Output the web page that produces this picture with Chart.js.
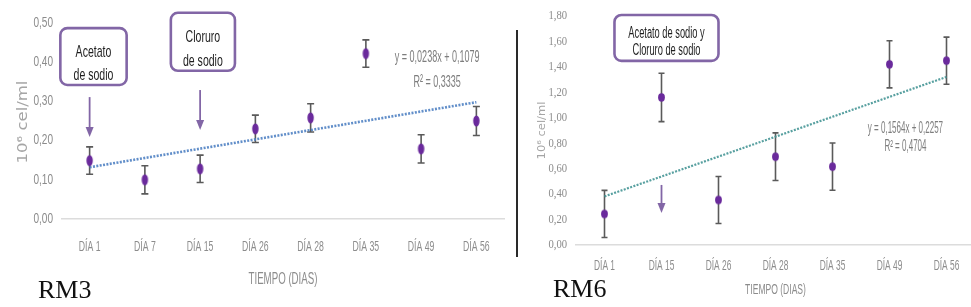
<!DOCTYPE html>
<html><head><meta charset="utf-8">
<script src="https://cdn.jsdelivr.net/npm/chart.js@4.4.1/dist/chart.umd.min.js"></script>
<style>
html,body{margin:0;padding:0;width:971px;height:307px;overflow:hidden;background:#fff;}
#wrap{position:relative;width:971px;height:307px;overflow:hidden;}
.cv{position:absolute;top:0;height:307px;}
.rm{position:absolute;font-family:"Liberation Serif","Times New Roman",serif;font-size:26px;color:#111;line-height:1;}
</style></head><body>
<div id="wrap">
  <div class="cv" style="left:0;width:510px"><canvas id="c1"></canvas></div>
  <div class="cv" style="left:520px;width:460px"><canvas id="c2"></canvas></div>
  <div style="position:absolute;left:516px;top:30px;width:2px;height:227px;background:#2a2a2a"></div>
  <div class="rm" style="left:38px;top:277px">RM3</div>
  <div class="rm" style="left:553px;top:276px">RM6</div>
</div>
<script>
// ---------- data ----------
const categoriesRM3 = ['DÍA 1','DÍA 7','DÍA 15','DÍA 26','DÍA 28','DÍA 35','DÍA 49','DÍA 56'];
const valuesRM3 = [0.149, 0.100, 0.128, 0.230, 0.258, 0.422, 0.179, 0.250];
const errorsRM3 = [0.035, 0.036, 0.035, 0.035, 0.036, 0.035, 0.036, 0.037];
const trendRM3  = [0.132, null, null, null, null, null, null, 0.298];
const yTickLabelsRM3 = ['0,00','0,10','0,20','0,30','0,40','0,50'];

const categoriesRM6 = ['DÍA 1','DÍA 15','DÍA 26','DÍA 28','DÍA 35','DÍA 49','DÍA 56'];
const valuesRM6 = [0.244, 1.160, 0.354, 0.694, 0.616, 1.420, 1.449];
const errorsRM6 = [0.185, 0.190, 0.185, 0.187, 0.186, 0.185, 0.185];
const trendRM6  = [0.382, null, null, null, null, null, 1.321];
const yTickLabelsRM6 = ['0,00','0,20','0,40','0,60','0,80','1,00','1,20','1,40','1,60','1,80'];

const eqRM3 = ['y = 0,0238x + 0,1079', 'R² = 0,3335'];
const eqRM6 = ['y = 0,1564x + 0,2257', 'R² = 0,4704'];
const xTitle = 'TIEMPO (DIAS)';
const yTitle = '10⁶ cel/ml';

// ---------- helpers ----------
const SANS = '"Liberation Sans",Arial,sans-serif';
const PURPLE = '#6a2a9c';
const BOXC = '#8266a6';

function ellipse(rx, ry, color){
  const c = document.createElement('canvas');
  c.width = Math.ceil(rx*2+2); c.height = Math.ceil(ry*2+2);
  const g = c.getContext('2d');
  g.fillStyle = color;
  g.beginPath(); g.ellipse(c.width/2, c.height/2, rx, ry, 0, 0, Math.PI*2); g.fill();
  return c;
}

function drawText(ctx, text, x, y, sx){
  ctx.save(); ctx.translate(x, y); ctx.scale(sx, 1); ctx.fillText(text, 0, 0); ctx.restore();
}

function makePlugins(cats, tickLabels, errors, cfg){
  const ann = cfg.ann;
  return [{
    id: 'errbars',
    beforeDatasetsDraw(chart){
      const meta = chart.getDatasetMeta(1);
      const ys = chart.scales.y, ctx = chart.ctx;
      const vals = chart.data.datasets[1].data;
      ctx.save();
      ctx.strokeStyle = '#5a5a5a'; ctx.lineWidth = 1.6;
      meta.data.forEach((pt, i) => {
        const yt = ys.getPixelForValue(vals[i] + errors[i]);
        const yb = ys.getPixelForValue(vals[i] - errors[i]);
        ctx.beginPath();
        ctx.moveTo(pt.x, yt); ctx.lineTo(pt.x, yb);
        ctx.moveTo(pt.x - cfg.cap, yt); ctx.lineTo(pt.x + cfg.cap, yt);
        ctx.moveTo(pt.x - cfg.cap, yb); ctx.lineTo(pt.x + cfg.cap, yb);
        ctx.stroke();
      });
      ctx.restore();
    }
  },{
    id: 'axisText',
    afterDraw(chart){
      const xs = chart.scales.x, ys = chart.scales.y, ctx = chart.ctx, ca = chart.chartArea;
      const t = cfg.text;
      ctx.save();
      ctx.textBaseline = 'middle';
      // x tick labels
      ctx.fillStyle = '#8c8c8c'; ctx.textAlign = 'center'; ctx.font = t.xTick.font;
      cats.forEach((c, i) => drawText(ctx, c, xs.getPixelForTick(i), ca.bottom + t.xTick.dy, t.xTick.sx));
      // y tick labels
      ctx.textAlign = 'right'; ctx.font = t.yTick.font;
      ys.ticks.forEach((tk, i) => drawText(ctx, tickLabels[i], ca.left - t.yTick.pad, ys.getPixelForValue(tk.value), t.yTick.sx));
      // x title
      ctx.textAlign = 'center'; ctx.font = t.xTitle.font;
      drawText(ctx, xTitle, (ca.left + ca.right) / 2, ca.bottom + t.xTitle.dy, t.xTitle.sx);
      // y title (rotated, thickness compressed)
      ctx.fillStyle = '#a5a5a5'; ctx.font = t.yTitle.font;
      ctx.save();
      ctx.translate(t.yTitle.x, (ca.top + ca.bottom) / 2 + t.yTitle.dy);
      ctx.rotate(-Math.PI / 2); ctx.scale(1, t.yTitle.sy);
      ctx.fillText(yTitle, 0, 0);
      ctx.restore();
      ctx.restore();
    }
  },{
    id: 'annot',
    afterDatasetsDraw(chart){
      const xs = chart.scales.x, ys = chart.scales.y, ctx = chart.ctx;
      const band = xs.getPixelForValue(1) - xs.getPixelForValue(0);
      const px = i => xs.getPixelForValue(0) + i*band;
      ctx.save();
      ann.boxes.forEach(b => {
        const x0 = px(b.x0), x1 = px(b.x1), y0 = ys.getPixelForValue(b.y0), y1 = ys.getPixelForValue(b.y1);
        ctx.fillStyle = '#fff'; ctx.strokeStyle = BOXC; ctx.lineWidth = 2.6;
        ctx.beginPath(); ctx.roundRect(x0, y0, x1-x0, y1-y0, 7); ctx.fill(); ctx.stroke();
        ctx.fillStyle = '#1e1e1e'; ctx.font = b.font; ctx.textAlign = 'center'; ctx.textBaseline = 'middle';
        b.lines.forEach((s, k) => drawText(ctx, s, (x0+x1)/2, y0 + b.first + k*b.gap, b.sx));
      });
      ann.arrows.forEach(a => {
        const x = px(a.x), y0 = ys.getPixelForValue(a.y0), y1 = ys.getPixelForValue(a.y1);
        ctx.strokeStyle = BOXC; ctx.fillStyle = BOXC; ctx.lineWidth = 1.8;
        ctx.beginPath(); ctx.moveTo(x, y0); ctx.lineTo(x, y1 - 9); ctx.stroke();
        ctx.beginPath(); ctx.moveTo(x - 4, y1 - 10); ctx.lineTo(x + 4, y1 - 10); ctx.lineTo(x, y1); ctx.closePath(); ctx.fill();
      });
      ctx.fillStyle = '#7d7d7d'; ctx.font = ann.eq.font; ctx.textAlign = 'center'; ctx.textBaseline = 'middle';
      ann.eq.lines.forEach((s, k) => drawText(ctx, s, px(ann.eq.x), ys.getPixelForValue(ann.eq.y[k]), ann.eq.sx));
      ctx.restore();
    }
  }];
}

function build(id, cats, vals, trend, tickLabels, errors, cfg){
  return new Chart(document.getElementById(id), {
    type: 'line',
    data: {
      labels: cats,
      datasets: [
        { data: trend, spanGaps: true, borderColor: cfg.trendColor, borderWidth: cfg.trendWidth,
          borderDash: [2, 1.4], pointRadius: 0, fill: false, order: 2 },
        { data: vals, showLine: false, pointStyle: cfg.marker, pointRadius: 5, order: 1 }
      ]
    },
    options: {
      responsive: true, maintainAspectRatio: false, animation: false,
      layout: { padding: cfg.padding, autoPadding: false },
      plugins: { legend: { display: false }, tooltip: { enabled: false } },
      scales: {
        x: {
          offset: true,
          grid: { display: false },
          border: { display: true, color: '#dcdcdc', width: 1.5 },
          ticks: { display: false, autoSkip: false },
          afterFit: s => { s.height = cfg.xHeight; }
        },
        y: {
          min: 0, max: cfg.max,
          grid: { display: false },
          border: { display: false },
          ticks: { display: false, stepSize: cfg.step },
          afterFit: s => { s.width = cfg.yWidth; }
        }
      }
    },
    plugins: makePlugins(cats, tickLabels, errors, cfg)
  });
}

build('c1', categoriesRM3, valuesRM3, trendRM3, yTickLabelsRM3, errorsRM3, {
  max: 0.5, step: 0.1, padding: { top: 23, right: 6, left: 0, bottom: 0 },
  yWidth: 62, xHeight: 88,
  text: {
    xTick: { font: '15px ' + SANS, sx: 0.58, dy: 28 },
    yTick: { font: '14px ' + SANS, sx: 0.72, pad: 9 },
    xTitle: { font: '17px ' + SANS, sx: 0.57, dy: 60 },
    yTitle: { font: '16.5px "DejaVu Sans",sans-serif', sy: 0.8, x: 24, dy: 1 }
  },
  trendColor: 'rgba(80,130,195,0.9)', trendWidth: 2.6,
  marker: ellipse(3.2, 5.6, PURPLE), cap: 3.5,
  ann: {
    boxes: [
      { x0: -0.53, x1: 0.67, y0: 0.487, y1: 0.342, lines: ['Acetato', 'de sodio'], first: 24, gap: 23, font: '17px ' + SANS, sx: 0.62 },
      { x0: 1.47, x1: 2.63, y0: 0.526, y1: 0.378, lines: ['Cloruro', 'de sodio'], first: 25, gap: 24, font: '17px ' + SANS, sx: 0.62 }
    ],
    arrows: [ { x: 0, y0: 0.311, y1: 0.209 }, { x: 2, y0: 0.329, y1: 0.227 } ],
    eq: { x: 6.29, y: [0.413, 0.349], lines: eqRM3, font: '17px ' + SANS, sx: 0.53 }
  }
});

build('c2', categoriesRM6, valuesRM6, trendRM6, yTickLabelsRM6, errorsRM6, {
  max: 1.8, step: 0.2, padding: { top: 16, right: 5, left: 0, bottom: 0 },
  yWidth: 56, xHeight: 62,
  text: {
    xTick: { font: '15px ' + SANS, sx: 0.56, dy: 21 },
    yTick: { font: '12.5px "Liberation Serif",serif', sx: 0.85, pad: 9 },
    xTitle: { font: '15px ' + SANS, sx: 0.57, dy: 45 },
    yTitle: { font: '11.5px "DejaVu Sans",sans-serif', sy: 0.9, x: 22, dy: 0 }
  },
  trendColor: 'rgba(70,150,150,0.9)', trendWidth: 2.2,
  marker: ellipse(3.4, 4.2, PURPLE), cap: 3,
  ann: {
    boxes: [
      { x0: 0.175, x1: 2.0, y0: 1.808, y1: 1.447, lines: ['Acetato de sodio y', 'Cloruro de sodio'], first: 19, gap: 17, font: '16px ' + SANS, sx: 0.58 }
    ],
    arrows: [ { x: 1, y0: 0.472, y1: 0.252 } ],
    eq: { x: 5.28, y: [0.912, 0.770], lines: eqRM6, font: '16px ' + SANS, sx: 0.5 }
  }
});
</script>
</body></html>
